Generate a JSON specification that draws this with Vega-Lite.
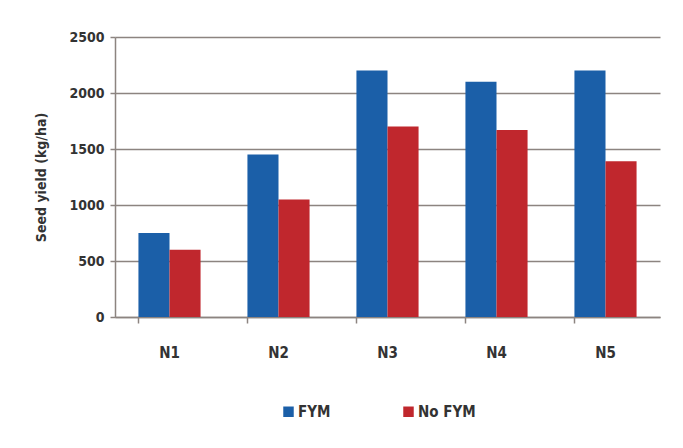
{
  "$schema": "https://vega.github.io/schema/vega-lite/v6.json",
  "width": 545,
  "height": 280,
  "autosize": {"type": "none"},
  "padding": {"left": 115, "top": 37, "right": 23, "bottom": 131},
  "background": "white",
  "config": {
    "view": {"stroke": null},
    "font": "DejaVu Sans Condensed, Liberation Sans, sans-serif"
  },
  "data": {
    "values": [
      {"group": "N1", "series": "FYM", "yield": 750},
      {"group": "N1", "series": "No FYM", "yield": 600},
      {"group": "N2", "series": "FYM", "yield": 1450},
      {"group": "N2", "series": "No FYM", "yield": 1050},
      {"group": "N3", "series": "FYM", "yield": 2200},
      {"group": "N3", "series": "No FYM", "yield": 1700},
      {"group": "N4", "series": "FYM", "yield": 2100},
      {"group": "N4", "series": "No FYM", "yield": 1670},
      {"group": "N5", "series": "FYM", "yield": 2200},
      {"group": "N5", "series": "No FYM", "yield": 1390}
    ]
  },
  "mark": {"type": "bar"},
  "encoding": {
    "x": {
      "field": "group", "type": "nominal",
      "scale": {"paddingInner": 0.43, "paddingOuter": 0.215},
      "axis": {
        "title": null, "labelAngle": 0, "labelFontSize": 15, "labelFontWeight": "bold",
        "labelColor": "#333333", "labelPadding": 22, "domainColor": "#8c8480", "domainWidth": 1.5,
        "tickColor": "#8c8480", "tickSize": 6, "tickWidth": 1.5, "bandPosition": 0
      }
    },
    "xOffset": {"field": "series", "type": "nominal", "scale": {"paddingInner": 0, "paddingOuter": 0}},
    "y": {
      "field": "yield", "type": "quantitative",
      "scale": {"domain": [0, 2500]},
      "axis": {
        "title": "Seed yield (kg/ha)", "titleFontSize": 14, "titleFontWeight": "bold", "titleColor": "#333333",
        "titlePadding": 20, "values": [0, 500, 1000, 1500, 2000, 2500], "format": "d",
        "labelFontSize": 14, "labelFontWeight": "bold", "labelColor": "#333333", "labelPadding": 6,
        "gridColor": "#8c8480", "gridWidth": 1.5, "domainColor": "#8c8480", "domainWidth": 1.5,
        "tickColor": "#8c8480", "tickSize": 5, "tickWidth": 1.5
      }
    },
    "color": {
      "field": "series", "type": "nominal",
      "scale": {"domain": ["FYM", "No FYM"], "range": ["#1b5fa8", "#c0272d"]},
      "legend": {
        "title": null, "orient": "none", "legendX": 166, "legendY": 367, "direction": "horizontal", "symbolType": "square",
        "symbolSize": 110, "symbolStrokeWidth": 0, "labelFontSize": 15, "labelFontWeight": "bold",
        "labelColor": "#333333", "columnPadding": 70, "labelOffset": 2
      }
    }
  }
}
